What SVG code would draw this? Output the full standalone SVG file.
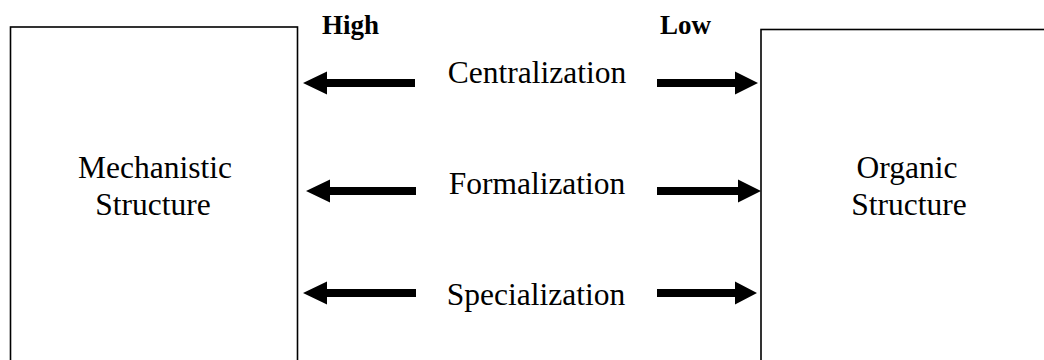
<svg xmlns="http://www.w3.org/2000/svg" width="1044" height="360" viewBox="0 0 1044 360">
  <style>
    .box { fill: #ffffff; stroke: #000000; stroke-width: 1.6; }
    .lbl { font-family: "Liberation Serif", "Times New Roman", serif; font-size: 31.5px; fill: #000000; text-anchor: middle; }
    .hdr { font-family: "Liberation Serif", "Times New Roman", serif; font-size: 27px; font-weight: bold; fill: #000000; }
    .arrow { fill: #000000; stroke: none; }
  </style>

  <rect width="1044" height="360" fill="#ffffff"/>

  <!-- left node -->
  <g id="mechanistic">
    <rect class="box" x="10.5" y="27" width="287" height="345"/>
    <text class="lbl" x="155" y="178">Mechanistic</text>
    <text class="lbl" x="153" y="215">Structure</text>
  </g>

  <!-- right node -->
  <g id="organic">
    <rect class="box" x="761" y="29.5" width="300" height="345"/>
    <text class="lbl" x="907" y="178">Organic</text>
    <text class="lbl" x="909" y="215">Structure</text>
  </g>

  <!-- scale headings -->
  <g id="headings">
    <text class="hdr" x="322" y="34">High</text>
    <text class="hdr" x="660" y="34">Low</text>
  </g>

  <!-- dimension labels -->
  <g id="dimensions">
    <text class="lbl" x="537" y="83">Centralization</text>
    <text class="lbl" x="537" y="194">Formalization</text>
    <text class="lbl" x="536" y="305">Specialization</text>
  </g>

  <!-- connectors: block arrows pointing to each structure -->
  <g id="connectors">
    <path class="arrow" d="M303,83 L327,71.5 L327,79 L415,79 L415,87 L327,87 L327,94.5 Z"/>
    <path class="arrow" d="M758,83 L735,71.5 L735,79 L657,79 L657,87 L735,87 L735,94.5 Z"/>

    <path class="arrow" d="M306,191 L330,179.5 L330,187 L416,187 L416,195 L330,195 L330,202.5 Z"/>
    <path class="arrow" d="M761,191 L738,179.5 L738,187 L657,187 L657,195 L738,195 L738,202.5 Z"/>

    <path class="arrow" d="M303,293 L327,281.5 L327,289 L416,289 L416,297 L327,297 L327,304.5 Z"/>
    <path class="arrow" d="M757,293 L735,281.5 L735,289 L657,289 L657,297 L735,297 L735,304.5 Z"/>
  </g>
</svg>
